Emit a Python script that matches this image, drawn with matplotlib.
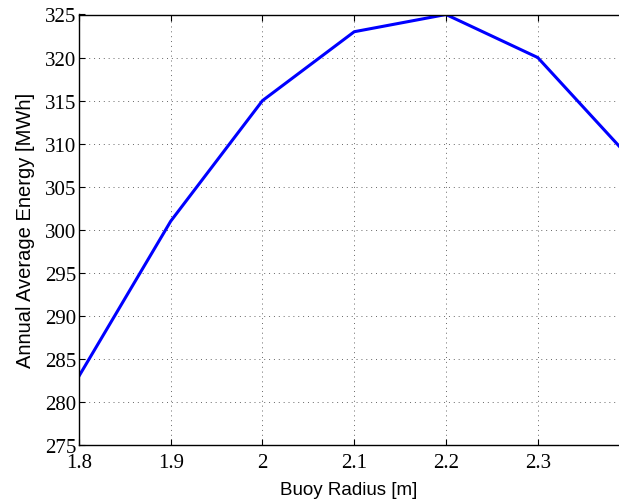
import matplotlib
matplotlib.use("Agg")
import matplotlib.pyplot as plt

radius = [1.8, 1.9, 2.0, 2.1, 2.2, 2.3, 2.4]
energy = [283, 301, 315, 323, 325, 320, 308.4]
xticks = [1.8, 1.9, 2.0, 2.1, 2.2, 2.3]
xticklabels = ["1.8", "1.9", "2", "2.1", "2.2", "2.3"]
yticks = [275, 280, 285, 290, 295, 300, 305, 310, 315, 320, 325]

fig = plt.figure(figsize=(6.19, 5.02), dpi=100)
ax = fig.add_axes([79/619, 56/502, 1 - 79/619, (446-15.5)/502])
ax.plot(radius, energy, color="#0000ff", linewidth=2.2, clip_on=True)
ax.set_xlim(1.8, 1.8 + 540/917.5)
ax.set_ylim(275, 325)
ax.set_xticks(xticks)
ax.set_xticklabels(xticklabels, family="Liberation Serif", fontsize=15)
ax.set_yticks(yticks)
ax.set_yticklabels([str(v) for v in yticks], family="Liberation Serif", fontsize=15)
ax.tick_params(direction="in", length=4, width=0.8, pad=2, top=True)
ax.tick_params(axis="x", pad=6)
ax.grid(True, linestyle=(0, (1, 4)), color="black", linewidth=0.7, alpha=0.6)
ax.spines["right"].set_visible(False)
for s in ["left", "top", "bottom"]:
    ax.spines[s].set_linewidth(1.0)
ax.set_xlabel("Buoy Radius [m]", family="Liberation Sans", fontsize=13.5, labelpad=6)
ax.set_ylabel("Annual Average Energy [MWh]", family="Liberation Sans", fontsize=14.5, labelpad=7)
fig.savefig("out.png", dpi=100)
